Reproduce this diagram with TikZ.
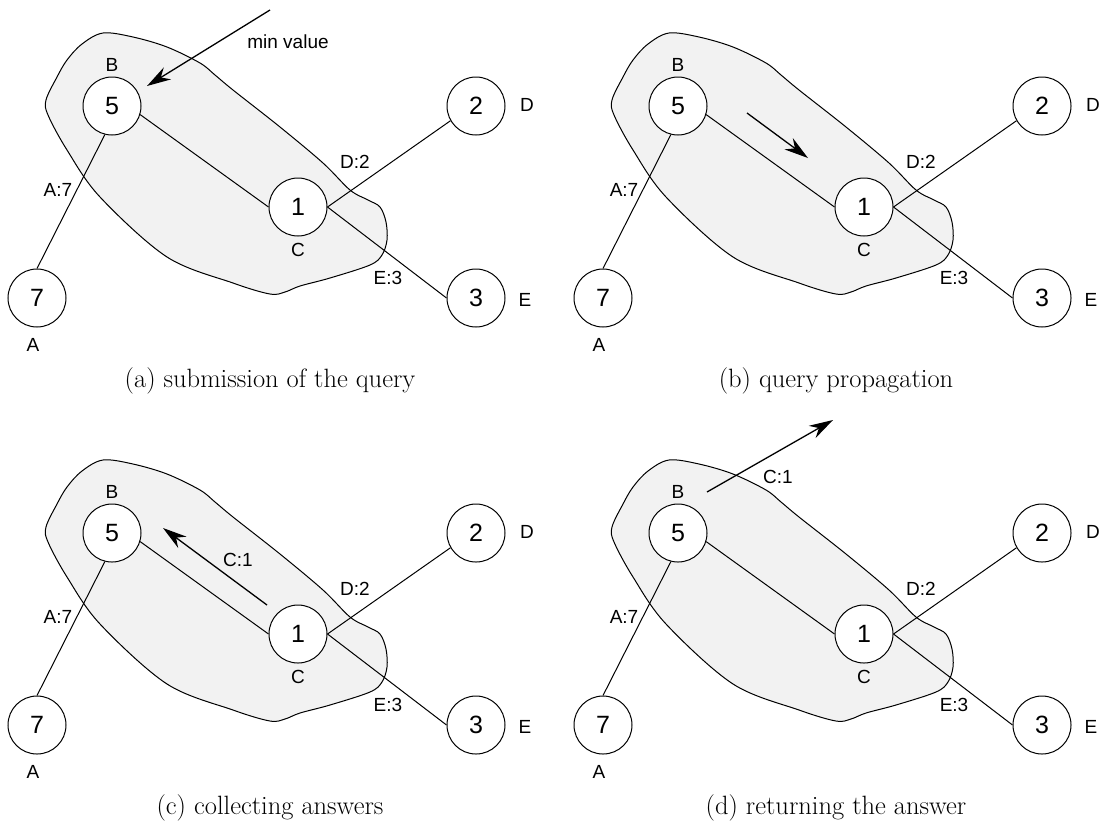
\documentclass[tikz,border=0pt]{standalone}
\usepackage{fontspec}
\setsansfont{Liberation Sans}
\usetikzlibrary{arrows.meta}
\tikzset{vertex/.style = {shape = circle, draw, fill = white, line width = 1pt, minimum size = 58pt, inner sep = 0pt, font = \sffamily\fontsize{25}{25}\selectfont}}
\tikzset{edge/.style = {line width = 1pt}}
\tikzset{tag/.style = {inner sep = 0pt, font = \sffamily\fontsize{19}{19}\selectfont}}
\tikzset{msg/.style = {-{Stealth[length = 24pt, width = 14pt]}, line width = 1.3pt}}
\tikzset{cloud/.style = {draw, fill = black!5, line width = 1pt}}
\tikzset{caption/.style = {inner sep = 0pt, font = \fontsize{26.5}{30}\selectfont}}

\begin{document}
\begin{tikzpicture}[x = 1pt, y = -1pt]
	\useasboundingbox (0, 0) rectangle (1107, 823);

	\foreach \p/\dx/\dy/\txt in {a/0/0/{submission of the query}, b/566/0/{query propagation}, c/0/427/{collecting answers}, d/566/427/{returning the answer}} {
		\begin{scope}[shift = {(\dx, \dy)}, name prefix = \p-]
			% the shaded group
			\draw[cloud] plot[smooth cycle, tension = 0.55] coordinates {
				(46, 100) (57, 77) (67, 60) (82, 44) (103, 33) (133, 37) (167, 47)
				(200, 63) (215, 75) (233, 90) (280, 127) (323, 163) (350, 190)
				(368, 200) (380, 207) (386, 222) (387, 240) (382, 255) (370, 265)
				(330, 278) (300, 286) (285, 292) (270, 294) (233, 283) (167, 257)
				(100, 197) (67, 150) (48, 115)};

			\node[vertex] (n5) at (112, 106) {5};
			\node[vertex] (n1) at (298, 207) {1};
			\node[vertex] (n2) at (476, 106) {2};
			\node[vertex] (n3) at (476, 298) {3};
			\node[vertex] (n7) at (37, 298) {7};

			\draw[edge] (n5.-17) -- (n1.180);
			\draw[edge] (n5.256) -- (n7.north);
			\draw[edge] (n1.east) -- (n2.210);
			\draw[edge] (n1.east) -- (n3.west);

			\node[tag] (lb) at (112, 65) {B};
			\node[tag] (lc) at (298, 250) {C};
			\node[tag] (ld) at (527, 105) {D};
			\node[tag] (le) at (525, 300) {E};
			\node[tag] (la) at (33, 345) {A};
			\node[tag] (wa) at (58, 190) {A:7};
			\node[tag] (wd) at (355, 162) {D:2};
			\node[tag] (we) at (388, 278) {E:3};

			\node[caption] (cap) at (270, 381) {(\p) \txt};
		\end{scope}
	}

	% (a) the query comes in
	\coordinate (qsrc) at (270, 10);
	\coordinate (qdst) at (147, 86);
	\draw[msg] (qsrc) -- (qdst);
	\node[tag] (minval) at (288, 42) {min value};

	% (b) forwarded to C
	\coordinate (fsrc) at (747, 113);
	\coordinate (fdst) at (808, 158);
	\draw[msg] (fsrc) -- (fdst);

	% (c) answer back to B
	\coordinate (rsrc) at (267, 605);
	\coordinate (rdst) at (163, 528);
	\draw[msg] (rsrc) -- (rdst);
	\node[tag] (rval) at (238, 560) {C:1};

	% (d) answer leaves the group
	\coordinate (osrc) at (707, 492);
	\coordinate (odst) at (833, 420);
	\draw[msg] (osrc) -- (odst);
	\node[tag] (oval) at (778, 477) {C:1};
\end{tikzpicture}
\end{document}
